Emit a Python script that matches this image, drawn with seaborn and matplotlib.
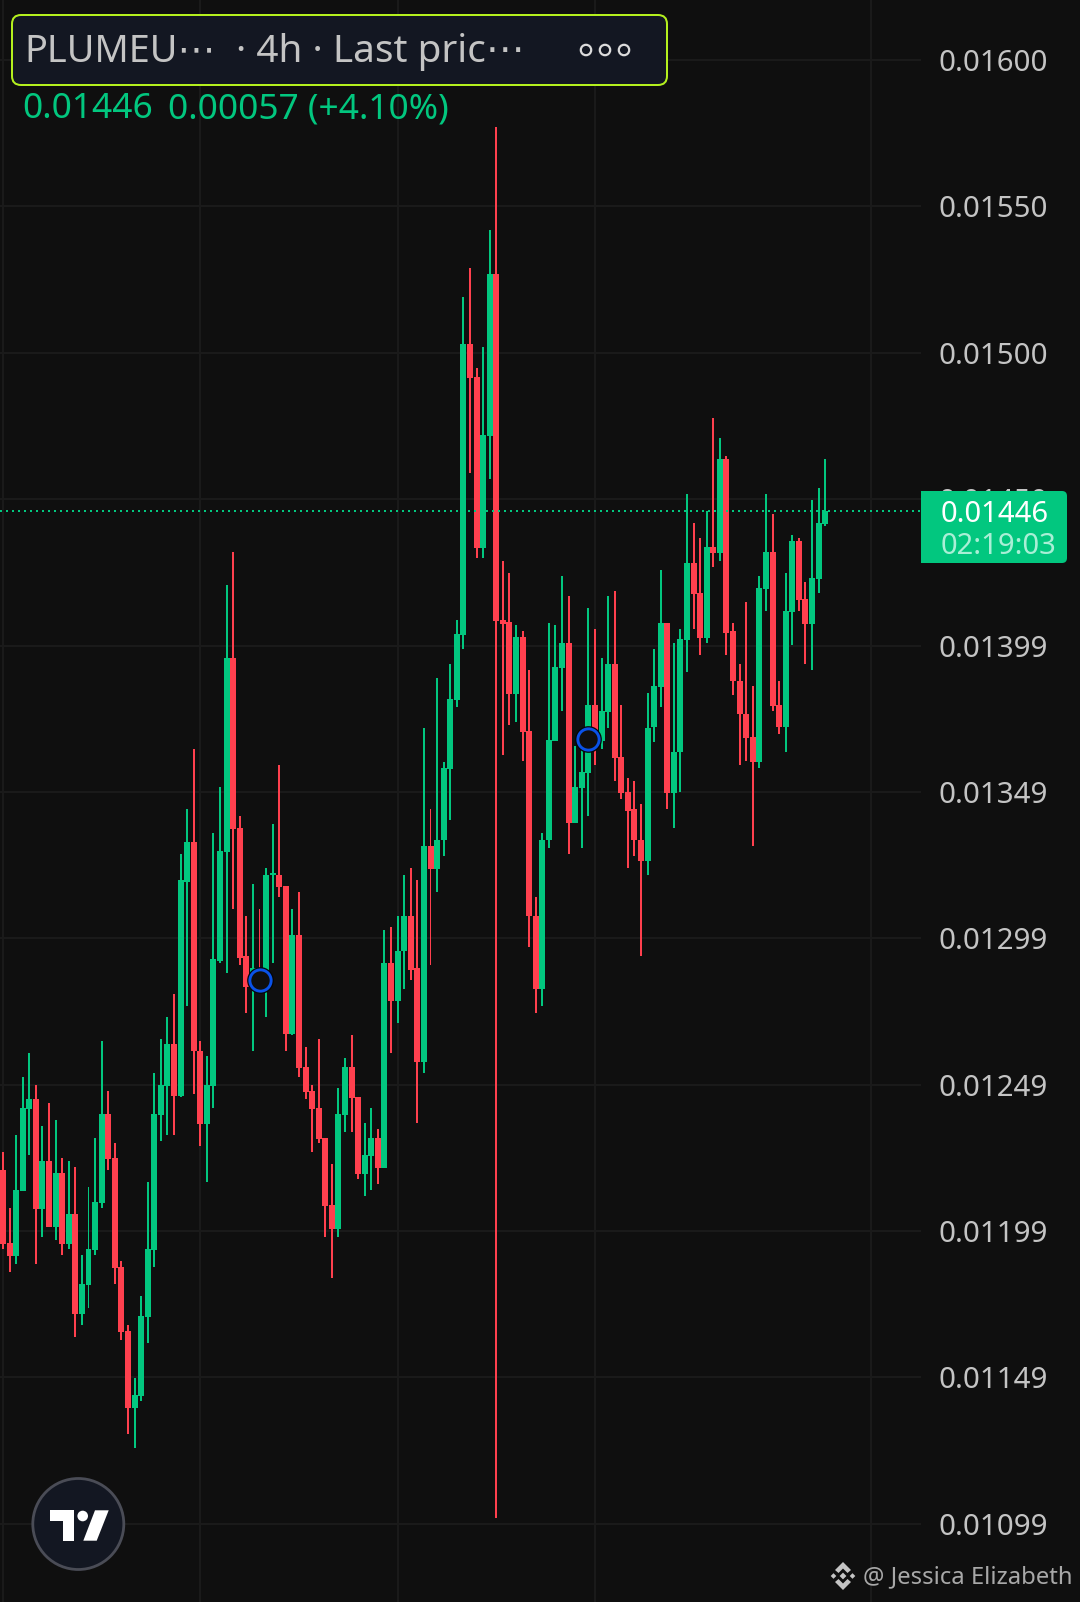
import numpy as np
import pandas as pd
import matplotlib.pyplot as plt
from matplotlib.patches import Circle, FancyBboxPatch, Polygon, Rectangle
import seaborn as sns

# Candle values, in units of 0.00001
highs = [1226.1, 1207.0, 1232.0, 1252.1, 1260.0, 1249.1, 1235.0, 1243.2, 1237.1, 1224.1,
         1223.1, 1221.0, 1190.9, 1214.2, 1230.9, 1264.1, 1247.0, 1229.2, 1188.9, 1167.0,
         1148.8, 1176.9, 1215.9, 1253.2, 1265.1, 1272.3, 1280.2, 1328.4, 1343.5, 1364.3,
         1264.1, 1259.0, 1335.3, 1351.3, 1420.4, 1431.7, 1341.4, 1307.2, 1318.1, 1309.3,
         1323.3, 1338.4, 1358.8, 1317.2, 1309.3, 1315.4, 1262.1, 1249.1, 1265.1, 1230.9,
         1222.0, 1248.0, 1258.3, 1266.2, 1245.0, 1236.1, 1241.2, 1234.0, 1302.4, 1303.1,
         1307.2, 1321.2, 1323.3, 1319.2, 1371.5, 1343.5, 1388.6, 1359.8, 1393.4, 1408.5,
         1518.9, 1528.9, 1494.6, 1501.8, 1541.9, 1577.1, 1428.6, 1424.5, 1406.5, 1404.4,
         1391.3, 1313.4, 1335.3, 1407.4, 1406.5, 1423.5, 1416.7, 1365.3, 1364.0, 1412.6,
         1405.4, 1395.5, 1416.7, 1418.4, 1379.4, 1354.4, 1353.4, 1345.5, 1383.5, 1398.5,
         1425.6, 1407.4, 1400.6, 1405.4, 1451.5, 1441.6, 1436.5, 1445.7, 1477.5, 1470.7,
         1464.5, 1407.4, 1393.4, 1414.6, 1385.6, 1423.5, 1451.5, 1444.7, 1387.6, 1424.5,
         1437.5, 1436.5, 1421.4, 1449.5, 1453.6, 1463.5]
body_tops = [1220.0, 1195.0, 1213.1, 1241.2, 1244.3, 1244.3, 1223.1, 1223.1, 1219.0, 1219.0,
             1204.9, 1204.9, 1181.0, 1193.0, 1209.0, 1239.1, 1239.1, 1224.1, 1186.8, 1164.9,
             1143.0, 1170.0, 1193.0, 1239.1, 1249.1, 1263.1, 1263.1, 1319.2, 1332.2, 1332.2,
             1261.0, 1249.1, 1292.2, 1329.4, 1395.5, 1395.5, 1337.3, 1293.2, 1289.4, 1288.7,
             1321.2, 1321.6, 1321.2, 1317.2, 1300.4, 1300.4, 1255.2, 1247.0, 1241.2, 1230.9,
             1208.0, 1239.1, 1255.2, 1255.2, 1245.0, 1225.1, 1230.9, 1230.9, 1291.1, 1291.1,
             1295.2, 1307.2, 1307.2, 1289.1, 1331.1, 1331.1, 1333.2, 1357.8, 1381.4, 1403.7,
             1502.9, 1502.9, 1491.5, 1471.7, 1526.8, 1526.8, 1408.5, 1407.5, 1402.6, 1402.6,
             1370.5, 1307.2, 1333.2, 1367.4, 1392.4, 1400.6, 1400.6, 1351.3, 1356.4, 1379.4,
             1379.4, 1377.3, 1393.4, 1393.4, 1361.3, 1349.3, 1343.5, 1333.2, 1371.5, 1385.6,
             1407.4, 1407.4, 1363.3, 1401.9, 1428.0, 1428.0, 1417.7, 1433.4, 1433.4, 1463.5,
             1463.5, 1404.4, 1387.6, 1376.3, 1368.4, 1419.4, 1431.7, 1431.7, 1379.4, 1411.5,
             1435.5, 1435.5, 1415.6, 1422.8, 1441.6, 1445.7]
body_bottoms = [1194.7, 1190.6, 1190.6, 1212.8, 1240.9, 1206.6, 1206.6, 1200.5, 1200.5, 1194.7,
                1194.7, 1170.7, 1170.7, 1180.6, 1192.6, 1208.7, 1223.8, 1186.5, 1164.6, 1138.6,
                1138.6, 1142.7, 1169.7, 1192.6, 1238.8, 1248.7, 1245.6, 1245.6, 1318.8, 1260.7,
                1235.7, 1235.7, 1248.7, 1291.8, 1329.1, 1336.9, 1292.8, 1282.9, 1281.9, 1284.0,
                1287.0, 1320.9, 1316.8, 1266.8, 1266.8, 1254.9, 1246.7, 1240.9, 1230.6, 1207.7,
                1199.8, 1199.8, 1238.8, 1244.6, 1218.6, 1218.6, 1224.8, 1220.7, 1220.7, 1277.8,
                1277.8, 1294.9, 1288.7, 1256.9, 1256.9, 1323.0, 1323.0, 1332.9, 1357.4, 1381.1,
                1403.3, 1491.2, 1433.1, 1433.1, 1471.4, 1408.1, 1407.1, 1383.1, 1383.1, 1370.1,
                1306.9, 1281.9, 1281.9, 1332.9, 1367.0, 1392.0, 1339.0, 1339.0, 1351.0, 1356.1,
                1370.8, 1367.0, 1377.0, 1361.0, 1349.0, 1343.1, 1332.9, 1326.0, 1326.0, 1371.8,
                1385.3, 1349.0, 1349.0, 1363.0, 1401.6, 1417.4, 1402.3, 1402.3, 1431.4, 1431.4,
                1404.0, 1387.3, 1376.0, 1368.1, 1359.9, 1359.9, 1419.0, 1379.0, 1371.8, 1371.8,
                1411.2, 1415.3, 1407.1, 1407.1, 1422.4, 1441.3]
lows = [1193.0, 1185.1, 1187.8, 1212.8, 1225.1, 1187.8, 1197.1, 1200.5, 1196.0, 1190.9,
        1193.0, 1162.9, 1167.0, 1172.8, 1190.9, 1207.0, 1220.0, 1181.0, 1161.9, 1129.7,
        1124.9, 1141.0, 1160.8, 1186.8, 1229.9, 1232.0, 1232.0, 1245.0, 1276.1, 1246.0,
        1228.2, 1215.9, 1241.2, 1291.1, 1287.4, 1309.3, 1290.1, 1274.0, 1261.0, 1282.6,
        1272.3, 1291.1, 1313.4, 1261.0, 1266.2, 1252.1, 1244.3, 1226.1, 1229.2, 1197.1,
        1183.0, 1197.1, 1233.0, 1233.0, 1216.9, 1211.1, 1213.1, 1215.2, 1220.7, 1260.0,
        1270.3, 1282.2, 1285.3, 1236.1, 1253.2, 1290.1, 1315.4, 1327.4, 1339.9, 1378.4,
        1398.5, 1458.7, 1429.7, 1429.7, 1456.7, 1100.9, 1362.3, 1372.5, 1373.5, 1360.2,
        1296.3, 1274.0, 1276.1, 1330.4, 1367.0, 1377.3, 1328.4, 1339.0, 1330.4, 1341.4,
        1358.8, 1364.3, 1371.5, 1353.4, 1347.2, 1323.3, 1327.4, 1293.2, 1321.2, 1366.7,
        1378.4, 1343.5, 1337.3, 1349.3, 1390.6, 1405.4, 1396.5, 1400.6, 1426.6, 1428.6,
        1396.5, 1382.5, 1358.8, 1360.2, 1331.1, 1357.8, 1411.5, 1377.3, 1369.4, 1363.3,
        1399.9, 1411.5, 1393.4, 1391.3, 1417.7, 1440.6]
directions = list("rrgggrgrgr" "grggggrrrr" "ggggggrggr" "rggggrrrgr"
                  "ggrrgrrrrr" "rggrrggrgr" "ggrrgrgggg" "grrggrrrgr"
                  "rrggggrggg" "rggrrrrrgg" "grgggrrgrg" "rrrrrggrrg" "grrggg")

tick_values = [0.01600, 0.015499, 0.014998, 0.014497, 0.013996, 0.013495,
               0.012994, 0.012493, 0.011992, 0.011491, 0.010990]
tick_labels = ['0.01600', '0.01550', '0.01500', '0.01450', '0.01399', '0.01349',
               '0.01299', '0.01249', '0.01199', '0.01149', '0.01099']
day_lines = [0, 30, 60, 90, 132]
signal_index = [39, 89]
signal_price = [0.012853, 0.013677]

BG = '#0f0f0f'
GRID = '#1a1a1a'
GREEN = '#02c77f'
RED = '#ff404e'
LABEL = '#c4c4c4'
PANEL = '#131722'
FONT = ['Noto Sans', 'DejaVu Sans']

sns.set_theme(style='dark', rc={'axes.facecolor': BG, 'figure.facecolor': BG})
plt.rcParams['font.family'] = FONT

df = pd.DataFrame({'idx': np.arange(len(highs)), 'high': highs, 'top': body_tops,
                   'bottom': body_bottoms, 'low': lows, 'dir': directions})
df[['high', 'top', 'bottom', 'low']] *= 1e-5
df['wick'] = df['high'] - df['low']
df['body'] = df['top'] - df['bottom']

fig = plt.figure(figsize=(10.8, 16.02), dpi=100)
ax = fig.add_axes([0, 0, 1, 1])

# Candles: wick and body are both bars floating on their own base
for key, color in [('r', RED), ('g', GREEN)]:
    sub = df[df['dir'] == key]
    sns.barplot(data=sub, x='idx', y='wick', bottom=sub['low'].values, native_scale=True,
                color=color, saturation=1, width=0.3, linewidth=0, errorbar=None, ax=ax,
                zorder=3)
    sns.barplot(data=sub, x='idx', y='body', bottom=sub['bottom'].values, native_scale=True,
                color=color, saturation=1, width=0.91, linewidth=0, errorbar=None, ax=ax,
                zorder=3)

# Signal markers
sns.scatterplot(x=signal_index, y=signal_price, s=370, color='#050505', linewidth=0, ax=ax, zorder=4)
sns.scatterplot(x=signal_index, y=signal_price, s=235, color=BG, edgecolor='#0a52e8',
                linewidth=2.1, ax=ax, zorder=5)

x_left, x_right = -0.456, 163.75
x_panel = 139.6
ax.set_xlim(x_left, x_right)
ax.set_ylim(0.0107226, 0.0162052)

# Grid stops where the price scale starts
ax.grid(False)
ax.hlines(tick_values, x_left, x_panel, color=GRID, linewidth=1.44, zorder=1)
ax.vlines(day_lines, 0.0107226, 0.0162052, color=GRID, linewidth=1.44, zorder=1)

# Last price line
ax.hlines(df['top'].iloc[-1], x_left, x_panel, color=GREEN, linewidth=1.44,
          linestyle=(0, (1, 2)), zorder=4)

for side in ax.spines.values():
    side.set_visible(False)
ax.set_xticks([])
ax.set_xlabel('')
ax.set_ylabel('')
ax.set_yticks(tick_values, tick_labels)
ax.tick_params(axis='y', left=False, right=False, labelleft=False, labelright=True,
               pad=-108, labelsize=21.2, labelcolor=LABEL)
for lab in ax.get_yticklabels():
    lab.set_va('center_baseline')

# Chart furniture, laid out in pixels on a see-through layer
top = fig.add_axes([0, 0, 1, 1], facecolor='none')
top.set_xlim(0, 1080)
top.set_ylim(1602, 0)
top.axis('off')

top.add_patch(FancyBboxPatch((12, 15), 655, 70, boxstyle='round,pad=0,rounding_size=9',
                             facecolor=PANEL, edgecolor='#b4f01e', linewidth=1.44))
top.text(24, 62, 'PLUMEU⋯', fontsize=27.3, color=LABEL, va='baseline')
top.text(236, 62, '· 4h · Last pric⋯', fontsize=27.9, color=LABEL, va='baseline')
for cx in [586, 605, 624]:
    top.add_patch(Circle((cx, 50), 5.2, facecolor='none', edgecolor='#dcdcdc', linewidth=1.6))
top.text(22, 118, '0.01446', fontsize=25.4, color=GREEN, va='baseline')
top.text(168, 118, '0.00057 (+4.10%)', fontsize=25.4, color=GREEN, va='baseline')

# Price tag
top.add_patch(FancyBboxPatch((921, 491), 146, 72, boxstyle='round,pad=0,rounding_size=5',
                             facecolor=GREEN, edgecolor='none'))
top.add_patch(Rectangle((921, 491), 20, 72, facecolor=GREEN, edgecolor='none'))
top.text(941, 515, '0.01446', fontsize=21, color='white', va='center')
top.text(941, 546, '02:19:03', fontsize=21, color='#a9efd6', va='center')

# TradingView badge
top.add_patch(Circle((78.3, 1524), 45.5, facecolor=PANEL, edgecolor='#4a4c56', linewidth=2))
top.add_patch(Polygon([(50, 1510.3), (74, 1510.3), (74, 1540.7), (63.3, 1540.7),
                       (63.3, 1521), (50, 1521)], facecolor='white', edgecolor='none'))
top.add_patch(Circle((82.7, 1516), 5.3, facecolor='white', edgecolor='none'))
top.add_patch(Polygon([(95, 1510.3), (108.7, 1510.3), (96.7, 1540.7), (83.3, 1540.7)],
                      facecolor='white', edgecolor='none'))

# Watermark
wm = '#c4c4c4'
for cx, cy, r in [(843, 1576, 3.4), (833.5, 1576, 2.8), (852.5, 1576, 2.8)]:
    top.add_patch(Polygon([(cx - r, cy), (cx, cy - r), (cx + r, cy), (cx, cy + r)],
                          facecolor=wm, edgecolor='none'))
top.add_patch(Polygon([(843, 1562), (851, 1570), (847.5, 1573), (843, 1568.5), (838.5, 1573), (835, 1570)],
                      facecolor=wm, edgecolor='none'))
top.add_patch(Polygon([(843, 1590), (851, 1582), (847.5, 1579), (843, 1583.5), (838.5, 1579), (835, 1582)],
                      facecolor=wm, edgecolor='none'))
top.text(863, 1583, '@ Jessica Elizabeth', fontsize=17.2, color='#a8a8a8', va='baseline')

fig.savefig('out.png', dpi=100, facecolor=BG)
